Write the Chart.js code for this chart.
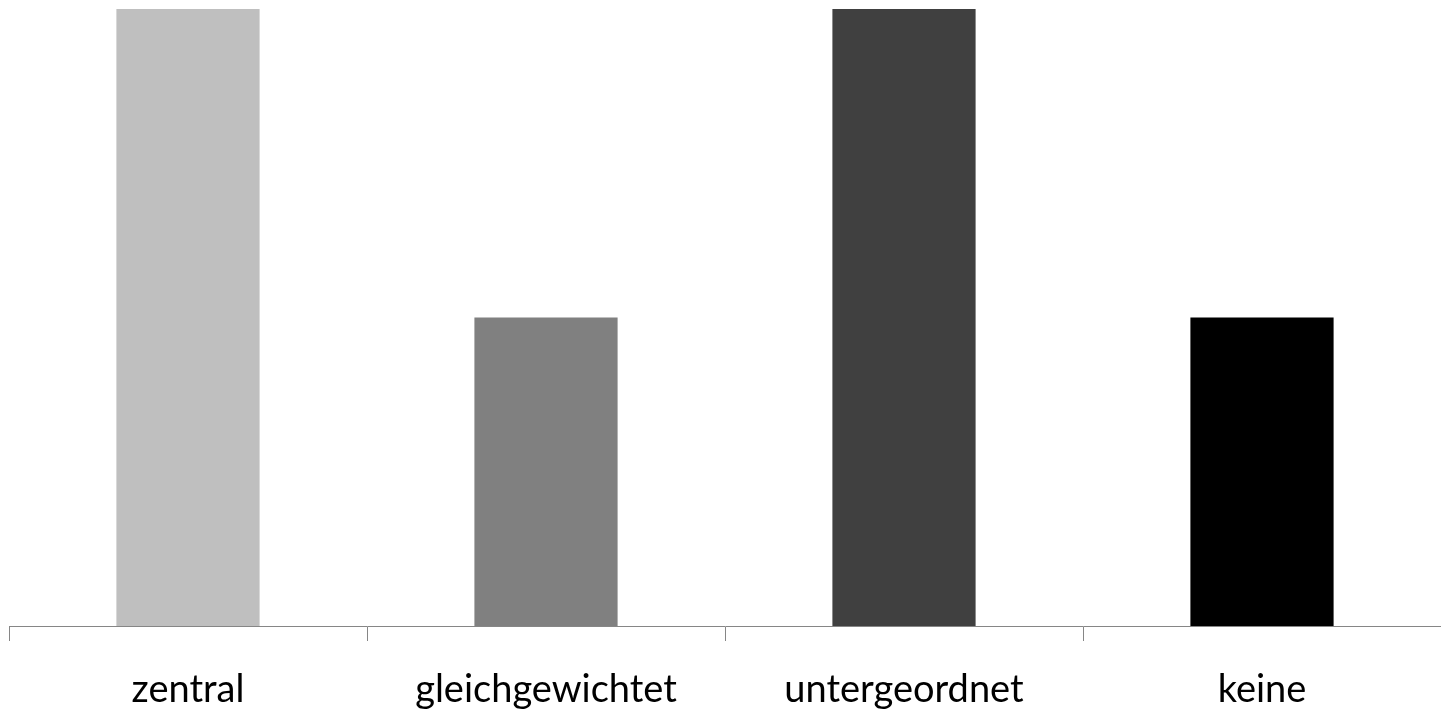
<!DOCTYPE html>
<html>
<head>
<meta charset="utf-8">
<script src="https://cdn.jsdelivr.net/npm/chart.js@4"></script>
<style>
  html, body { margin: 0; padding: 0; background: #fff; }
  #wrap { width: 1441px; height: 712px; position: relative; }
</style>
</head>
<body>
<div id="wrap"><canvas id="chart"></canvas></div>
<script>
// Gewichtung der Kategorien
const categories = ["zentral", "gleichgewichtet", "untergeordnet", "keine"];
const values = [2, 1, 2, 1];
const barColors = ["#bfbfbf", "#808080", "#404040", "#000000"];

new Chart(document.getElementById("chart"), {
  type: "bar",
  data: {
    labels: categories,
    datasets: [{
      data: values,
      backgroundColor: barColors,
      borderWidth: 0,
      categoryPercentage: 1,
      barPercentage: 0.4,
    }],
  },
  options: {
    responsive: true,
    maintainAspectRatio: false,
    animation: false,
    layout: { padding: { left: 9, top: 9, right: 0, bottom: 0 } },
    plugins: { legend: { display: false }, tooltip: { enabled: false } },
    scales: {
      x: {
        offset: true,
        // fixed band under the axis for tick marks and labels
        afterFit: (scale) => { scale.height = 86; },
        border: { display: true, color: "#868686", width: 1 },
        grid: {
          offset: true,
          drawOnChartArea: false,
          drawTicks: true,
          tickLength: 15,
          color: "#868686",
        },
        ticks: {
          color: "#000",
          padding: 26,
          maxRotation: 0,
          font: { family: "Lato, 'Open Sans', sans-serif", size: 38 },
        },
      },
      y: {
        display: false,
        min: 0,
        max: 2,
      },
    },
  },
});
</script>
</body>
</html>
